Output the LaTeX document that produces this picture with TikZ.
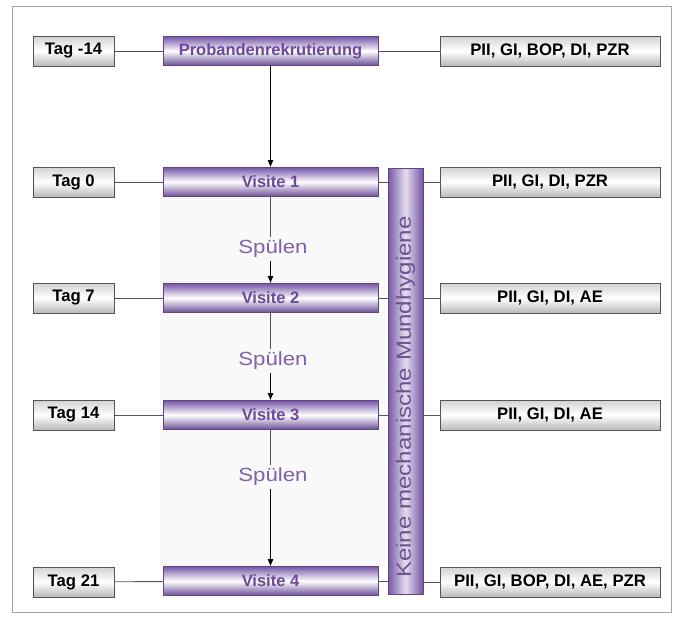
\documentclass[tikz,border=0pt]{standalone}
\usepackage{fontspec}
\setmainfont{Liberation Sans}
\newfontfamily\widefont{Liberation Sans}[FakeStretch=1.17]
\usepackage{xcolor}
\usetikzlibrary{arrows.meta,positioning}
\definecolor{visitpurple}{RGB}{118,86,168}
\definecolor{visittext}{RGB}{108,74,150}
\definecolor{rinsetext}{RGB}{128,98,170}
\definecolor{linegray}{RGB}{85,85,85}

\begin{document}
\begin{tikzpicture}[x=1pt, y=-1pt,
  tagbox/.style={draw=linegray, line width=0.9pt, top color=gray!35, bottom color=gray!55, middle color=white,
    minimum width=81pt, minimum height=30pt, inner sep=0pt, font=\bfseries\fontsize{16.7}{18}\selectfont},
  visitbox/.style={draw=visitpurple!80!black, line width=0.6pt, top color=visitpurple, bottom color=visitpurple!90!black, middle color=white,
    minimum width=215pt, minimum height=29pt, inner sep=0pt, text=visittext, font=\bfseries\fontsize{16.5}{18}\selectfont},
  exambox/.style={tagbox, minimum width=220pt},
  rinse/.style={text=rinsetext, inner sep=3pt, font=\widefont\fontsize{19}{21}\selectfont},
  link/.style={draw=linegray, line width=0.9pt},
  flow/.style={link, -{Latex[length=7pt,width=6pt]}, black}]
\useasboundingbox (0,0) rectangle (682,627);
\draw[gray!70, line width=0.8pt] (12,6) rectangle (671,612);
\fill[gray!5] (160,197) rectangle (386,566);

% time points
\node[tagbox] (t0) at (73.5,51) {Tag -14};
\node[tagbox] (t1) at (73.5,182) {Tag 0};
\node[tagbox] (t2) at (73.5,298) {Tag 7};
\node[tagbox] (t3) at (73.5,415) {Tag 14};
\node[tagbox] (t4) at (73.5,582) {Tag 21};

% visits
\node[visitbox] (v0) at (270.5,51) {Probandenrekrutierung};
\node[visitbox] (v1) at (270.5,182) {Visite 1};
\node[visitbox] (v2) at (270.5,298) {Visite 2};
\node[visitbox] (v3) at (270.5,415) {Visite 3};
\node[visitbox] (v4) at (270.5,581) {Visite 4};

% examinations
\node[exambox] (e0) at (550,51) {PII, GI, BOP, DI, PZR};
\node[exambox] (e1) at (550,182) {PII, GI, DI, PZR};
\node[exambox] (e2) at (550,298) {PII, GI, DI, AE};
\node[exambox] (e3) at (550,415) {PII, GI, DI, AE};
\node[exambox] (e4) at (550,582) {PII, GI, BOP, DI, AE, PZR};

% no oral hygiene bar
\node[draw=visitpurple!80!black, line width=0.6pt, left color=visitpurple, right color=visitpurple, middle color=white!80!visitpurple,
  minimum width=35pt, minimum height=426pt, inner sep=0pt] (bar) at (405.5,381) {};
\node[rotate=90, text=rinsetext!85!black, font=\widefont\fontsize{20.6}{22}\selectfont] (barlabel) at (405.5,397) {Keine mechanische Mundhygiene};

% rinsing phases
\node[rinse] (s1) at (273,249) {Spülen};
\node[rinse] (s2) at (273,361) {Spülen};
\node[rinse] (s3) at (273,477) {Spülen};

\foreach \i in {0,...,4} {\draw[link] (t\i) -- (v\i);}
\draw[link] (v0) -- (e0);
\foreach \i in {1,...,4} {
  \draw[link] (v\i.east) -- (v\i.east -| bar.west);
  \draw[link] (e\i.west -| bar.east) -- (e\i.west);
}
\draw[flow] (v0) -- (v1);
\draw[link] (v1) -- (v1 |- s1.north);
\draw[flow] (v2 |- s1.south) -- (v2);
\draw[link] (v2) -- (v2 |- s2.north);
\draw[flow] (v3 |- s2.south) -- (v3);
\draw[link] (v3) -- (v3 |- s3.north);
\draw[flow] (v4 |- s3.south) -- (v4);
\end{tikzpicture}
\end{document}
